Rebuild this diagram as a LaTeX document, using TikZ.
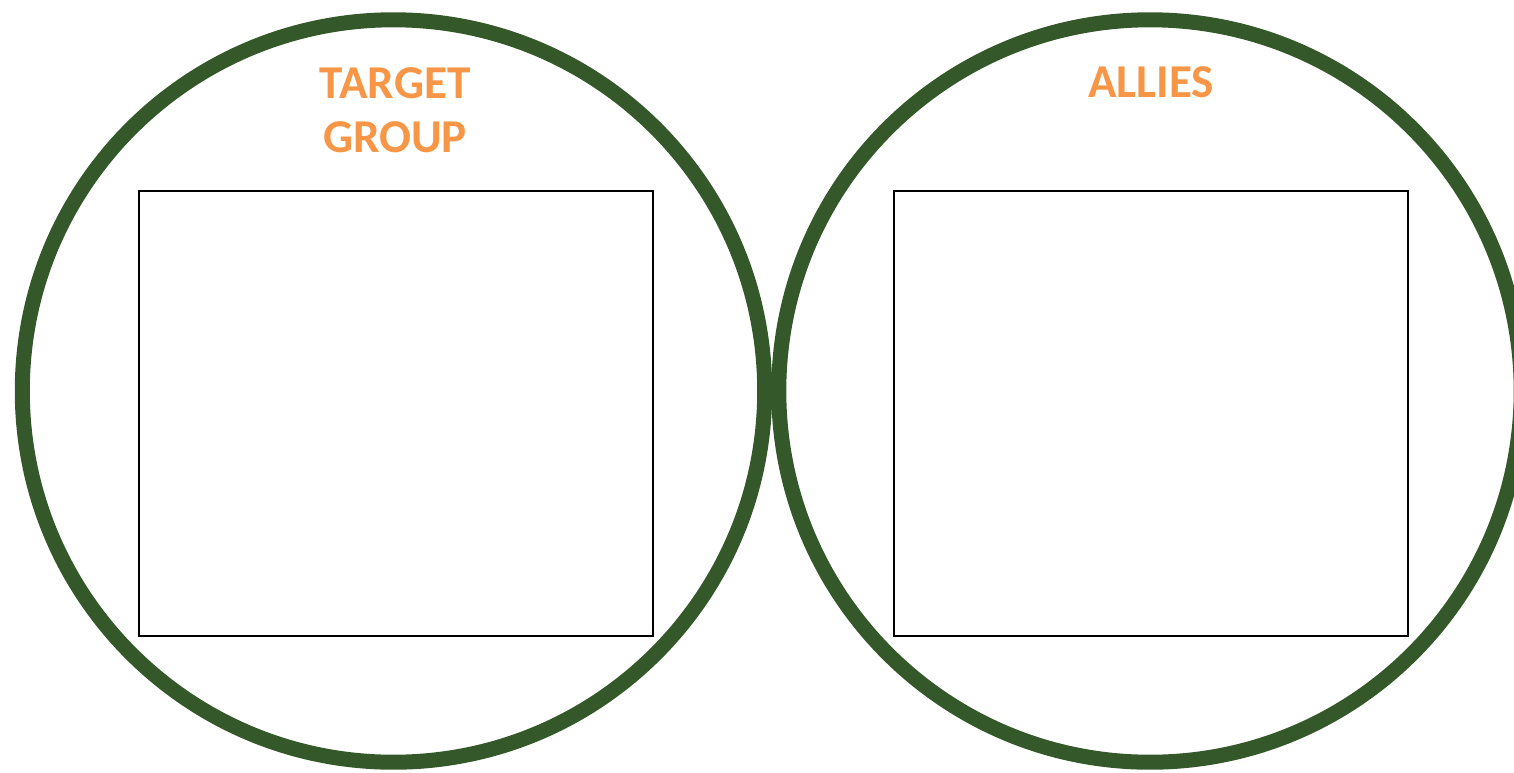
\documentclass[tikz,border=0pt]{standalone}
\usepackage{fontspec}
\setmainfont{Carlito}
\definecolor{ringgreen}{RGB}{52,88,41}
\definecolor{titleorange}{RGB}{247,150,70}
\begin{document}
\begin{tikzpicture}[x=0.01cm, y=-0.01cm,
  ring/.style={circle, draw=ringgreen, line width=0.15cm, minimum size=7.42cm, inner sep=0pt},
  box/.style={rectangle, draw=black, line width=0.02cm, minimum width=5.14cm, minimum height=4.45cm, inner sep=0pt},
  title/.style={text=titleorange, font=\fontsize{13.4}{15.1}\selectfont\bfseries, align=center, anchor=base, inner sep=0pt}]
\useasboundingbox (0,0) rectangle (1514,772);
\node[ring] (target) at (393.5,391) {};
\node[ring] (allies) at (1150,391) {};
\node[box] (targetbox) at (396,413.5) {};
\node[box] (alliesbox) at (1151,413.5) {};
% base of a two-line node is its last line
\node[title] (targettitle) at (395,152) {TARGET\\GROUP};
\node[title] (alliestitle) at (1151,97) {ALLIES};
\end{tikzpicture}
\end{document}
